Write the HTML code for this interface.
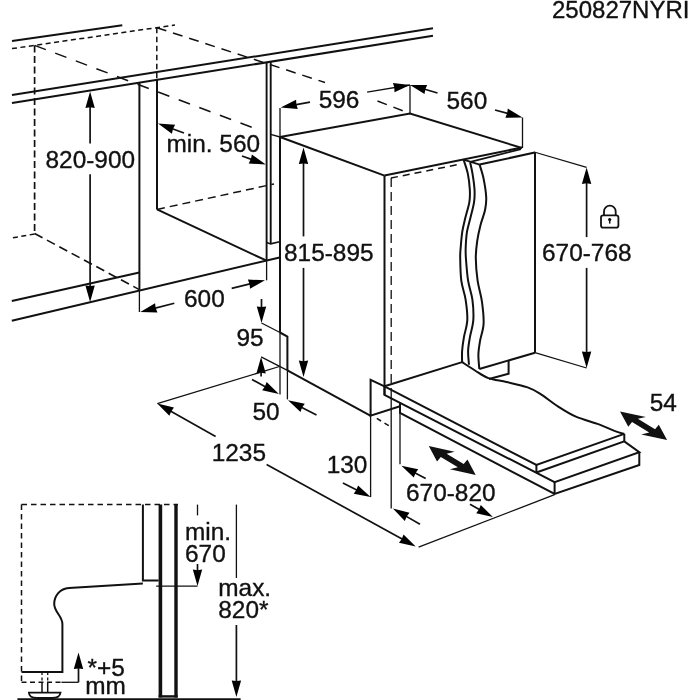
<!DOCTYPE html>
<html><head><meta charset="utf-8"><style>
html,body{margin:0;padding:0;background:#fff;}
svg{display:block;filter:grayscale(100%);}
text{font-family:"Liberation Sans",sans-serif;fill:#111;stroke:#111;stroke-width:0.35px;}
</style></head><body>
<svg width="700" height="700" viewBox="0 0 700 700" stroke="#111" fill="none">
<line x1="12" y1="41" x2="122.3" y2="25.2" stroke-width="2.0" stroke-linecap="butt"/>
<line x1="12" y1="48.6" x2="175" y2="25" stroke-width="1.5" stroke-dasharray="5 3.5" stroke-linecap="butt"/>
<line x1="34.6" y1="45.4" x2="34.6" y2="233.5" stroke-width="1.7" stroke-dasharray="7 3.5" stroke-linecap="butt"/>
<line x1="34.6" y1="45.4" x2="259" y2="130" stroke-width="1.5" stroke-dasharray="12 10" stroke-linecap="butt"/>
<line x1="156.8" y1="27.7" x2="156.8" y2="80" stroke-width="1.5" stroke-dasharray="5.5 3.5" stroke-linecap="butt"/>
<line x1="156.8" y1="27.7" x2="325" y2="82.5" stroke-width="1.5" stroke-dasharray="10 7" stroke-linecap="butt"/>
<line x1="377.5" y1="101" x2="410" y2="113.5" stroke-width="1.5" stroke-dasharray="10 7" stroke-linecap="butt"/>
<line x1="34.6" y1="234" x2="12" y2="238" stroke-width="1.5" stroke-dasharray="5 3.5" stroke-linecap="butt"/>
<line x1="34.6" y1="233.5" x2="139.3" y2="289.6" stroke-width="1.6" stroke-dasharray="9 5" stroke-linecap="butt"/>
<line x1="12" y1="95" x2="433" y2="28.3" stroke-width="2.0" stroke-linecap="butt"/>
<line x1="12" y1="103" x2="433" y2="35.8" stroke-width="2.0" stroke-linecap="butt"/>
<line x1="139.4" y1="82.7" x2="139.4" y2="289.6" stroke-width="2.0" stroke-linecap="butt"/>
<line x1="139.4" y1="289.6" x2="139.4" y2="312" stroke-width="1.3" stroke-linecap="butt"/>
<line x1="157" y1="80" x2="157" y2="209.4" stroke-width="2.0" stroke-linecap="butt"/>
<line x1="157" y1="209.4" x2="266.6" y2="260.7" stroke-width="2.0" stroke-linecap="butt"/>
<line x1="157" y1="209.4" x2="274" y2="184" stroke-width="1.5" stroke-dasharray="8 5" stroke-linecap="butt"/>
<line x1="11.8" y1="301" x2="139.4" y2="272.5" stroke-width="2.0" stroke-linecap="butt"/>
<line x1="11.8" y1="320.7" x2="279.6" y2="257.5" stroke-width="2.0" stroke-linecap="butt"/>
<line x1="266.6" y1="62.4" x2="266.6" y2="260.7" stroke-width="1.9" stroke-linecap="butt"/>
<line x1="266.6" y1="260.7" x2="266.6" y2="280.3" stroke-width="1.3" stroke-linecap="butt"/>
<line x1="270.7" y1="61.8" x2="270.7" y2="243.9" stroke-width="1.9" stroke-linecap="butt"/>
<polyline points="266.6,242.5 270.7,243.9 279.6,241.8" stroke-width="1.6" fill="none" stroke-linejoin="miter"/>
<line x1="90.1" y1="143.6" x2="90.10" y2="105.90" stroke-width="1.7"/>
<polygon points="90.1,91.4 94.80,107.90 90.10,107.30 85.40,107.90" fill="#000" stroke="none"/>
<line x1="90.1" y1="174.3" x2="90.10" y2="287.40" stroke-width="1.7"/>
<polygon points="90.1,301.9 85.40,285.40 90.10,286.00 94.80,285.40" fill="#000" stroke="none"/>
<line x1="184" y1="133" x2="171.64" y2="128.53" stroke-width="1.7"/>
<polygon points="158,123.6 175.12,124.79 172.95,129.01 171.92,133.63" fill="#000" stroke="none"/>
<line x1="242" y1="156" x2="252.16" y2="159.67" stroke-width="1.7"/>
<polygon points="265.8,164.6 248.68,163.41 250.85,159.20 251.88,154.57" fill="#000" stroke="none"/>
<line x1="174.3" y1="303.2" x2="154.33" y2="308.43" stroke-width="1.7"/>
<polygon points="140.3,312.1 155.07,303.37 155.68,308.07 157.45,312.47" fill="#000" stroke="none"/>
<line x1="231.7" y1="288.3" x2="250.90" y2="283.69" stroke-width="1.7"/>
<polygon points="265,280.3 250.05,288.72 249.54,284.01 247.86,279.58" fill="#000" stroke="none"/>
<line x1="270.7" y1="134.4" x2="280" y2="137" stroke-width="1.3" stroke-linecap="butt"/>
<line x1="280" y1="108" x2="280" y2="137" stroke-width="1.3" stroke-linecap="butt"/>
<line x1="310" y1="102.1" x2="294.97" y2="104.82" stroke-width="1.7"/>
<polygon points="280.7,107.4 296.10,99.84 296.35,104.57 297.77,109.09" fill="#000" stroke="none"/>
<line x1="367.1" y1="92.1" x2="410" y2="85" stroke-width="1.3" stroke-linecap="butt"/>
<polygon points="410,85 394.49,92.33 394.31,87.60 392.95,83.06" fill="#000" stroke="none"/>
<line x1="410" y1="85" x2="410" y2="113.5" stroke-width="1.3" stroke-linecap="butt"/>
<line x1="437.5" y1="93" x2="423.92" y2="89.05" stroke-width="1.7"/>
<polygon points="410,85 427.16,85.10 425.27,89.44 424.53,94.12" fill="#000" stroke="none"/>
<line x1="495" y1="110" x2="508.51" y2="113.68" stroke-width="1.7"/>
<polygon points="522.5,117.5 505.34,117.69 507.16,113.32 507.82,108.62" fill="#000" stroke="none"/>
<line x1="522.5" y1="117.5" x2="522.5" y2="148" stroke-width="1.3" stroke-linecap="butt"/>
<polyline points="280,137 410,113.5 522,148" stroke-width="2.0" fill="none" stroke-linejoin="miter"/>
<line x1="280" y1="137" x2="384.5" y2="175.6" stroke-width="2.0" stroke-linecap="butt"/>
<line x1="384.5" y1="175.6" x2="522" y2="147.5" stroke-width="2.0" stroke-linecap="butt"/>
<line x1="470.5" y1="161.8" x2="521" y2="149.2" stroke-width="1.8" stroke-linecap="butt"/>
<line x1="479.6" y1="164.6" x2="534.8" y2="152.5" stroke-width="2.0" stroke-linecap="butt"/>
<line x1="463.6" y1="159.7" x2="479.6" y2="164.6" stroke-width="1.8" stroke-linecap="butt"/>
<line x1="391" y1="178" x2="461" y2="164" stroke-width="1.5" stroke-dasharray="7 5" stroke-linecap="butt"/>
<line x1="280" y1="137" x2="280" y2="332.5" stroke-width="2.0" stroke-linecap="butt"/>
<line x1="280" y1="332.5" x2="280" y2="394.6" stroke-width="1.3" stroke-linecap="butt"/>
<polyline points="280,332.5 287.4,336.5 287.4,370.3" stroke-width="2.0" fill="none" stroke-linejoin="miter"/>
<line x1="287.4" y1="370.3" x2="287.4" y2="399.4" stroke-width="1.3" stroke-linecap="butt"/>
<line x1="287.4" y1="370.3" x2="370.3" y2="415.6" stroke-width="2.0" stroke-linecap="butt"/>
<line x1="384.5" y1="175.6" x2="384.5" y2="395" stroke-width="2.0" stroke-linecap="butt"/>
<line x1="391.2" y1="178" x2="391.2" y2="385" stroke-width="1.3" stroke-dasharray="9 5" stroke-linecap="butt"/>
<line x1="391.2" y1="388" x2="391.2" y2="508.6" stroke-width="1.3" stroke-linecap="butt"/>
<line x1="535" y1="152.5" x2="535" y2="352.7" stroke-width="2.0" stroke-linecap="butt"/>
<line x1="535" y1="352.7" x2="479.3" y2="369" stroke-width="2.0" stroke-linecap="butt"/>
<line x1="534.1" y1="152" x2="586.6" y2="167.4" stroke-width="1.3" stroke-linecap="butt"/>
<line x1="535" y1="352.7" x2="586.6" y2="368" stroke-width="1.3" stroke-linecap="butt"/>
<line x1="586.6" y1="237.1" x2="586.60" y2="181.90" stroke-width="1.7"/>
<polygon points="586.6,167.4 591.30,183.90 586.60,183.30 581.90,183.90" fill="#000" stroke="none"/>
<line x1="586.6" y1="267.9" x2="586.60" y2="353.50" stroke-width="1.7"/>
<polygon points="586.6,368 581.90,351.50 586.60,352.10 591.30,351.50" fill="#000" stroke="none"/>
<line x1="384.5" y1="386.3" x2="462.1" y2="362.1" stroke-width="2.0" stroke-linecap="butt"/>
<polyline points="508.6,361 508.6,373.7 489,379" stroke-width="2.0" fill="none" stroke-linejoin="miter"/>
<path d="M463.6,159.7 C464.30,162.02 466.77,168.67 467.8,173.6 C468.83,178.53 469.53,184.58 469.8,189.3 C470.07,194.02 470.13,197.18 469.4,201.9 C468.67,206.62 466.58,212.63 465.4,217.6 C464.22,222.57 463.08,226.73 462.3,231.7 C461.52,236.67 461.05,243.02 460.7,247.4 C460.35,251.78 460.10,252.45 460.2,258 C460.30,263.55 460.40,273.77 461.3,280.7 C462.20,287.63 464.60,293.03 465.6,299.6 C466.60,306.17 467.58,313.82 467.3,320.1 C467.02,326.38 464.77,332.15 463.9,337.3 C463.03,342.45 462.40,346.87 462.1,351 C461.80,355.13 462.10,360.25 462.1,362.1" stroke-width="2.0" fill="none" />
<path d="M470.1,162.3 C470.50,164.18 471.77,169.10 472.5,173.6 C473.23,178.10 474.23,184.58 474.5,189.3 C474.77,194.02 474.77,197.18 474.1,201.9 C473.43,206.62 471.68,212.63 470.5,217.6 C469.32,222.57 467.80,226.73 467,231.7 C466.20,236.67 465.88,243.02 465.7,247.4 C465.52,251.78 465.50,252.45 465.9,258 C466.30,263.55 467.02,273.77 468.1,280.7 C469.18,287.63 471.53,293.03 472.4,299.6 C473.27,306.17 473.72,313.82 473.3,320.1 C472.88,326.38 470.77,332.15 469.9,337.3 C469.03,342.45 468.25,346.43 468.1,351 C467.95,355.57 468.85,362.42 469,364.7" stroke-width="2.0" fill="none" />
<path d="M479.6,164.6 C480.25,166.88 482.40,172.88 483.5,178.3 C484.60,183.72 485.93,191.87 486.2,197.1 C486.47,202.33 486.07,204.98 485.1,209.7 C484.13,214.42 481.72,220.17 480.4,225.4 C479.08,230.63 477.97,235.67 477.2,241.1 C476.43,246.53 475.73,251.40 475.8,258 C475.87,264.60 476.58,273.48 477.6,280.7 C478.62,287.92 480.90,294.15 481.9,301.3 C482.90,308.45 483.90,317.03 483.6,323.6 C483.30,330.17 480.97,335.57 480.1,340.7 C479.23,345.83 478.53,349.68 478.4,354.4 C478.27,359.12 479.15,366.57 479.3,369" stroke-width="2.0" fill="none" />
<path d="M462.1,362.1 C464.25,363.50 470.62,367.83 475,370.5 C479.38,373.17 483.17,376.18 488.4,378.1 C493.63,380.02 499.97,380.50 506.4,382 C512.83,383.50 521.42,385.17 527,387.1 C532.58,389.03 534.75,390.38 539.9,393.6 C545.05,396.82 551.90,402.55 557.9,406.4 C563.90,410.25 569.05,413.70 575.9,416.7 C582.75,419.70 592.58,422.03 599,424.4 C605.42,426.77 610.18,429.30 614.4,430.9 C618.62,432.50 622.65,433.48 624.3,434" stroke-width="2.0" fill="none" />
<polyline points="384.5,386.3 536.4,465 624.3,433.9" stroke-width="2.0" fill="none" stroke-linejoin="miter"/>
<polyline points="384.5,386.3 384.5,395 554.6,482.1 639.3,452.1 624.3,441.4 536.4,472.5" stroke-width="2.0" fill="none" stroke-linejoin="miter"/>
<line x1="536.4" y1="465" x2="536.4" y2="472.5" stroke-width="2.0" stroke-linecap="butt"/>
<line x1="624.3" y1="433.9" x2="624.3" y2="441.4" stroke-width="2.0" stroke-linecap="butt"/>
<polyline points="400,403.3 400,413 554.6,493.9 639.3,465 639.3,452.1" stroke-width="2.0" fill="none" stroke-linejoin="miter"/>
<line x1="554.6" y1="482.1" x2="554.6" y2="493.9" stroke-width="2.0" stroke-linecap="butt"/>
<polyline points="384.5,386.3 370.6,379.8 370.6,415.6 400,406.3" stroke-width="2.0" fill="none" stroke-linejoin="miter"/>
<line x1="370.6" y1="415.6" x2="370.6" y2="497.1" stroke-width="1.3" stroke-linecap="butt"/>
<line x1="376.8" y1="418.4" x2="388.9" y2="425.8" stroke-width="1.5" stroke-dasharray="5 4" stroke-linecap="butt"/>
<line x1="400" y1="413" x2="400" y2="464.3" stroke-width="1.3" stroke-linecap="butt"/>
<line x1="261.5" y1="299" x2="261.50" y2="308.50" stroke-width="1.7"/>
<polygon points="261.5,323 256.80,306.50 261.50,307.10 266.20,306.50" fill="#000" stroke="none"/>
<line x1="261.5" y1="323" x2="280" y2="332.5" stroke-width="1.3" stroke-linecap="butt"/>
<line x1="261.1" y1="376.6" x2="261.10" y2="371.40" stroke-width="1.7"/>
<polygon points="261.1,356.9 265.80,373.40 261.10,372.80 256.40,373.40" fill="#000" stroke="none"/>
<line x1="261.1" y1="356.9" x2="287.4" y2="370.3" stroke-width="1.3" stroke-linecap="butt"/>
<line x1="303.5" y1="236.4" x2="303.50" y2="162.00" stroke-width="1.7"/>
<polygon points="303.5,147.5 308.20,164.00 303.50,163.40 298.80,164.00" fill="#000" stroke="none"/>
<line x1="303.5" y1="267.9" x2="303.50" y2="362.60" stroke-width="1.7"/>
<polygon points="303.5,377.1 298.80,360.60 303.50,361.20 308.20,360.60" fill="#000" stroke="none"/>
<line x1="157.3" y1="403.6" x2="279.4" y2="366.5" stroke-width="1.3" stroke-linecap="butt"/>
<line x1="215.6" y1="436.4" x2="169.94" y2="410.71" stroke-width="1.7"/>
<polygon points="157.3,403.6 173.98,407.59 171.16,411.40 169.38,415.79" fill="#000" stroke="none"/>
<line x1="266.6" y1="464.4" x2="403.00" y2="539.60" stroke-width="1.7"/>
<polygon points="415.7,546.6 398.98,542.75 401.78,538.92 403.52,534.52" fill="#000" stroke="none"/>
<line x1="418.6" y1="547.1" x2="554.6" y2="494.7" stroke-width="1.3" stroke-linecap="butt"/>
<line x1="252" y1="379.5" x2="266.16" y2="387.18" stroke-width="1.7"/>
<polygon points="278.9,394.1 262.16,390.36 264.93,386.52 266.64,382.10" fill="#000" stroke="none"/>
<line x1="316.5" y1="415" x2="300.87" y2="406.88" stroke-width="1.7"/>
<polygon points="288,400.2 304.81,403.63 302.11,407.53 300.48,411.98" fill="#000" stroke="none"/>
<line x1="342.9" y1="482.9" x2="357.70" y2="490.49" stroke-width="1.7"/>
<polygon points="370.6,497.1 353.77,493.76 356.45,489.85 358.06,485.39" fill="#000" stroke="none"/>
<line x1="420" y1="524.3" x2="405.45" y2="515.87" stroke-width="1.7"/>
<polygon points="392.9,508.6 409.53,512.80 406.66,516.57 404.82,520.94" fill="#000" stroke="none"/>
<line x1="425.7" y1="478.6" x2="414.21" y2="472.50" stroke-width="1.7"/>
<polygon points="401.4,465.7 418.18,469.29 415.44,473.16 413.77,477.59" fill="#000" stroke="none"/>
<line x1="470" y1="504.3" x2="480.24" y2="510.03" stroke-width="1.7"/>
<polygon points="492.9,517.1 476.20,513.15 479.02,509.34 480.79,504.95" fill="#000" stroke="none"/>
<polygon points="428.80,446.10 454.64,451.67 446.62,453.64 463.69,464.12 467.46,459.53 475.70,474.90 449.86,469.33 457.88,467.36 440.81,456.88 437.04,461.47" fill="#111" stroke="none"/>
<polygon points="620.00,411.40 645.90,416.88 637.87,418.86 655.06,429.29 658.80,424.72 667.10,440.00 641.20,434.52 649.23,432.54 632.04,422.11 628.30,426.68" fill="#111" stroke="none"/>
<rect x="601" y="215.3" width="17.4" height="12.4" rx="2.2" stroke-width="1.8" fill="none"/>
<path d="M604,215.3 V211.4 A5.85,5.85 0 0 1 615.7,211.4 V215.3" stroke-width="1.8" fill="none" />
<circle cx="609.7" cy="219.6" r="1.6" fill="#000" stroke="none"/>
<line x1="609.7" y1="219.6" x2="609.7" y2="223.6" stroke-width="1.5" stroke-linecap="butt"/>
<line x1="21.5" y1="504.6" x2="178" y2="504.6" stroke-width="1.5" stroke-dasharray="5.5 4" stroke-linecap="butt"/>
<line x1="21.5" y1="504.6" x2="21.5" y2="682.3" stroke-width="1.5" stroke-dasharray="5.5 4" stroke-linecap="butt"/>
<line x1="21.5" y1="682.3" x2="61.4" y2="682.3" stroke-width="1.5" stroke-dasharray="5 3.5" stroke-linecap="butt"/>
<polyline points="142.9,504.6 142.9,580.6 158.6,580.6" stroke-width="2.0" fill="none" stroke-linejoin="miter"/>
<path d="M142.9,583.6 L68.9,588 C60,588.5 54.2,596 54.2,604 C54.2,612 62.4,616 62.4,624 L62.4,672.1 L21.5,672.1" stroke-width="2.0" fill="none" />
<line x1="160.4" y1="504.6" x2="160.4" y2="697.6" stroke-width="3.6" stroke-linecap="butt"/>
<line x1="176" y1="504.6" x2="176" y2="697.6" stroke-width="3.4" stroke-linecap="butt"/>
<line x1="158.6" y1="696.4" x2="177.7" y2="696.4" stroke-width="2.4" stroke-linecap="butt"/>
<line x1="17.4" y1="699.3" x2="240.6" y2="699.3" stroke-width="2.2" stroke-linecap="butt"/>
<line x1="156.2" y1="586.1" x2="197.5" y2="586.1" stroke-width="1.3" stroke-linecap="butt"/>
<line x1="197.5" y1="504.6" x2="197.5" y2="515.4" stroke-width="1.3" stroke-linecap="butt"/>
<line x1="197.5" y1="564" x2="197.50" y2="571.60" stroke-width="1.7"/>
<polygon points="197.5,586.1 192.80,569.60 197.50,570.20 202.20,569.60" fill="#000" stroke="none"/>
<line x1="236.4" y1="504.6" x2="236.4" y2="578" stroke-width="1.3" stroke-linecap="butt"/>
<line x1="236.4" y1="625" x2="236.40" y2="682.50" stroke-width="1.7"/>
<polygon points="236.4,697 231.70,680.50 236.40,681.10 241.10,680.50" fill="#000" stroke="none"/>
<polyline points="61.4,682.3 78.5,682.3" stroke-width="1.3" fill="none" stroke-linejoin="miter"/>
<line x1="78.5" y1="682.3" x2="78.50" y2="667.10" stroke-width="1.7"/>
<polygon points="78.5,652.6 83.20,669.10 78.50,668.50 73.80,669.10" fill="#000" stroke="none"/>
<line x1="42" y1="672" x2="42" y2="682" stroke-width="1.3" stroke-dasharray="3 2.5" stroke-linecap="butt"/>
<line x1="47.7" y1="672" x2="47.7" y2="682" stroke-width="1.3" stroke-dasharray="3 2.5" stroke-linecap="butt"/>
<line x1="42" y1="682" x2="42" y2="692" stroke-width="1.5" stroke-linecap="butt"/>
<line x1="47.7" y1="682" x2="47.7" y2="692" stroke-width="1.5" stroke-linecap="butt"/>
<path d="M28.9,692.6 L60.5,692.6 C60,697 56,698 52,698 L37,698 C33,698 29,697 28.9,692.6 Z" stroke-width="1.8" fill="none" />
<text x="552" y="17.6" font-size="24" text-anchor="start">250827NYRI</text>
<text x="45.5" y="167.9" font-size="24.4" text-anchor="start">820-900</text>
<text x="166.5" y="152.4" font-size="24.4" text-anchor="start">min. 560</text>
<text x="318.7" y="107.9" font-size="24.4" text-anchor="start">596</text>
<text x="446.5" y="109.4" font-size="24.4" text-anchor="start">560</text>
<text x="284" y="260.7" font-size="24.4" text-anchor="start">815-895</text>
<text x="542" y="261" font-size="24.4" text-anchor="start">670-768</text>
<text x="184" y="306.6" font-size="24.4" text-anchor="start">600</text>
<text x="236.4" y="345.5" font-size="24.4" text-anchor="start">95</text>
<text x="252.5" y="420.3" font-size="24.4" text-anchor="start">50</text>
<text x="211.7" y="461" font-size="24.4" text-anchor="start">1235</text>
<text x="326.7" y="473.2" font-size="24.4" text-anchor="start">130</text>
<text x="406" y="500.9" font-size="24.4" text-anchor="start">670-820</text>
<text x="649.7" y="410.7" font-size="24.4" text-anchor="start">54</text>
<text x="185" y="539.9" font-size="24.4" text-anchor="start">min.</text>
<text x="185" y="561.7" font-size="24.4" text-anchor="start">670</text>
<text x="218.3" y="595.6" font-size="24.4" text-anchor="start">max.</text>
<text x="218.3" y="617.5" font-size="24.4" text-anchor="start">820*</text>
<text x="87.4" y="676.4" font-size="24.4" text-anchor="start">*+5</text>
<text x="85.2" y="694.3" font-size="24.4" text-anchor="start">mm</text>
</svg></body></html>
